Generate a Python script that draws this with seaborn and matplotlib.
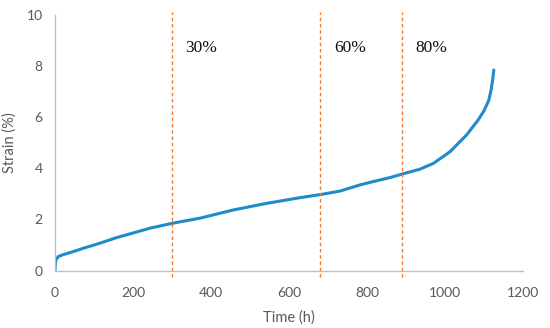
import pandas as pd
import matplotlib
matplotlib.use('Agg')
import matplotlib.pyplot as plt
import seaborn as sns

# creep curve
time_h = [0, 0.5, 1, 2, 4, 8.5, 20, 40, 72, 115, 158, 200, 244, 301, 372, 457,
          543, 628, 684, 731, 782, 816, 860, 896, 935, 970, 1013, 1055, 1085,
          1100, 1112, 1118, 1122, 1125]
strain = [0, 0.15, 0.28, 0.38, 0.46, 0.55, 0.62, 0.71, 0.87, 1.07, 1.29, 1.47,
          1.66, 1.85, 2.05, 2.37, 2.63, 2.85, 2.98, 3.11, 3.35, 3.48, 3.64,
          3.80, 3.96, 4.19, 4.65, 5.30, 5.89, 6.25, 6.65, 7.05, 7.45, 7.84]

load_levels = [300, 680, 890]
load_labels = ['30%', '60%', '80%']

data = pd.DataFrame({'Time (h)': time_h, 'Strain (%)': strain})

sns.set_style('white')
plt.rcParams['font.family'] = ['Lato', 'DejaVu Sans']

fig = plt.figure(figsize=(5.5, 3.28), dpi=100)
ax = fig.add_axes([0.1, 0.175, 0.851, 0.78])

sns.lineplot(data=data, x='Time (h)', y='Strain (%)', ax=ax, color='#1F8BC9',
             linewidth=2.2, sort=False, estimator=None)

for x, lab in zip(load_levels, load_labels):
    ax.plot([x, x], [-0.25, 10.1], color='#ED7D31', linestyle=(0, (2.5, 2)),
            linewidth=1.0, clip_on=False)
    ax.text(x + 35, 8.7, lab, fontsize=12.5, family='Liberation Serif',
            color='#111111', va='center', ha='left')

ax.set_xlim(0, 1200)
ax.set_ylim(0, 10)
ax.set_xticks(range(0, 1201, 200))
ax.set_yticks(range(0, 11, 2))
ax.tick_params(axis='both', length=0, labelsize=10, colors='#595959')
ax.tick_params(axis='x', pad=12)
ax.tick_params(axis='y', pad=9)
ax.set_xlabel('Time (h)', fontsize=10.5, color='#595959', labelpad=8)
ax.set_ylabel('Strain (%)', fontsize=10.5, color='#595959', labelpad=7)

sns.despine(ax=ax)
for s in ['left', 'bottom']:
    ax.spines[s].set_color('#BFBFBF')
    ax.spines[s].set_linewidth(1.0)

fig.savefig('out.png', dpi=100)
